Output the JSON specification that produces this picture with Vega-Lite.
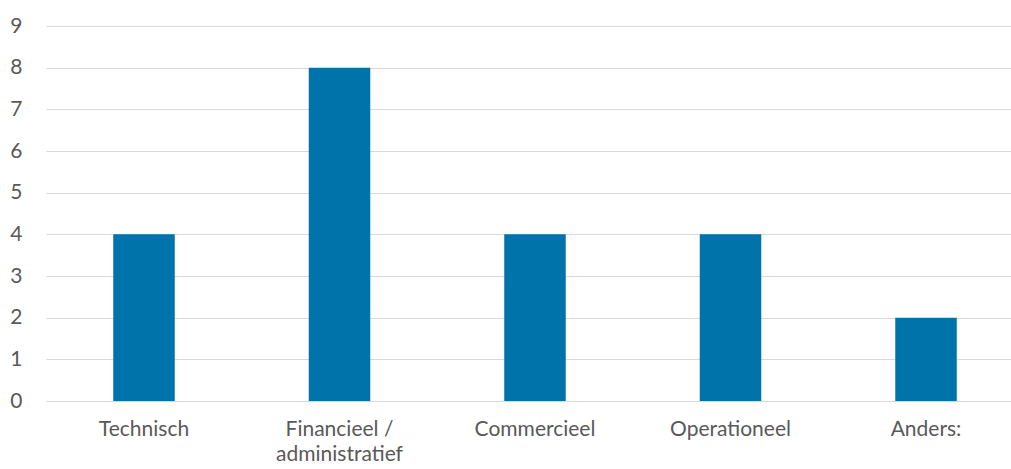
{
  "$schema": "https://vega.github.io/schema/vega-lite/v6.json",
  "autosize": "none",
  "padding": {"left": 46, "top": 26, "right": 0, "bottom": 68},
  "width": 965,
  "height": 375,
  "background": "white",
  "config": {"view": {"stroke": null}, "font": "Lato"},
  "data": {"values": [
    {"categorie": "Technisch", "aantal": 4},
    {"categorie": "Financieel / administratief", "aantal": 8},
    {"categorie": "Commercieel", "aantal": 4},
    {"categorie": "Operationeel", "aantal": 4},
    {"categorie": "Anders:", "aantal": 2}
  ]},
  "mark": {"type": "bar", "color": "#0073ab"},
  "encoding": {
    "x": {
      "field": "categorie", "type": "nominal", "sort": null,
      "scale": {"paddingInner": 0.6854, "paddingOuter": 0.3107, "align": 0.5535},
      "axis": {
        "title": null, "labelAngle": 0, "domain": false, "ticks": false,
        "labelFontSize": 21, "labelColor": "#595959", "labelPadding": 17,
        "labelLineHeight": 25, "labelOverlap": false, "labelBound": false,
        "labelExpr": "datum.label == 'Financieel / administratief' ? ['Financieel /', 'administratief'] : datum.label"
      }
    },
    "y": {
      "field": "aantal", "type": "quantitative",
      "scale": {"domain": [0, 9], "nice": false},
      "axis": {
        "title": null, "values": [0,1,2,3,4,5,6,7,8,9],
        "domain": false, "ticks": false, "labelOverlap": false,
        "labelFontSize": 21, "labelColor": "#595959", "labelPadding": 24,
        "gridColor": "#d9d9d9", "gridWidth": 1
      }
    }
  }
}
